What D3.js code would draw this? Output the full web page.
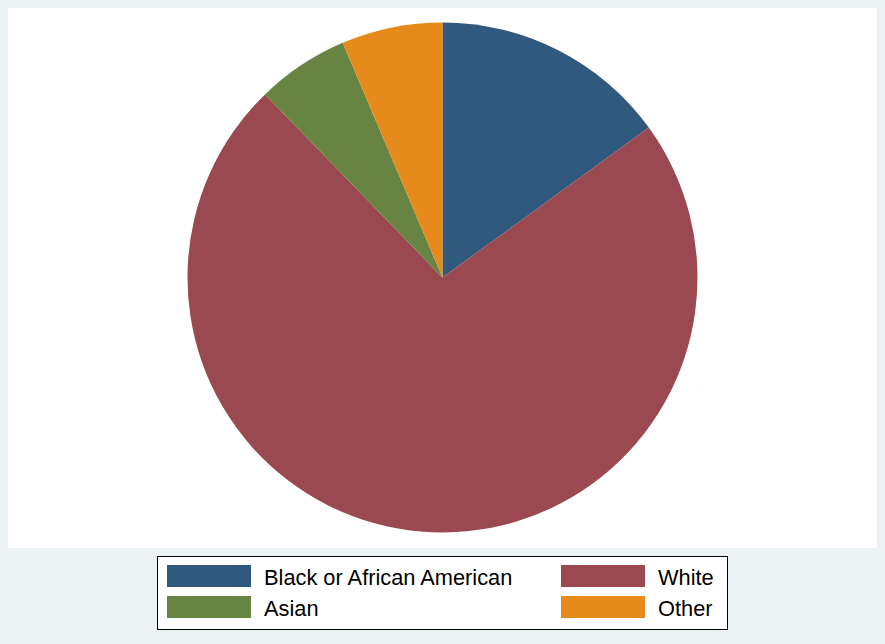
<!DOCTYPE html>
<html><head><meta charset="utf-8">
<script src="https://cdn.jsdelivr.net/npm/d3@7"></script>
<style>body{margin:0;background:#EAF2F3;}svg{display:block;}</style>
</head><body>
<svg id="chart" width="885" height="644"></svg>
<script>
const categories = ["Black or African American", "White", "Asian", "Other"];
const values = [15.0, 72.75, 5.85, 6.4];
const colors = ["#31597D", "#9B4950", "#678443", "#E68B1B"];
const legendOrder = [0, 1, 2, 3];

const svg = d3.select("#chart");
svg.append("rect").attr("x",0).attr("y",0).attr("width",885).attr("height",644).attr("fill","#EAF2F3");
svg.append("rect").attr("x",8).attr("y",8).attr("width",869).attr("height",540).attr("fill","#ffffff");

const cx = 442.5, cy = 277.5, r = 255;
const pie = d3.pie().sort(null).value(d => d.v);
const arcs = pie(categories.map((c,i)=>({c, v: values[i], i})));
const arc = d3.arc().innerRadius(0).outerRadius(r);
svg.append("g").attr("transform",`translate(${cx},${cy})`)
  .selectAll("path").data(arcs).join("path")
  .attr("d", arc).attr("fill", d => colors[d.data.i]);

// legend
const lg = svg.append("g");
lg.append("rect").attr("x",157.5).attr("y",556.5).attr("width",570).attr("height",73)
  .attr("fill","#fff").attr("stroke","#000").attr("stroke-width",1);
const colX = [167, 561], rowY = [565, 596];
legendOrder.forEach((k, j) => {
  const col = j % 2, row = Math.floor(j / 2);
  lg.append("rect").attr("x", colX[col]).attr("y", rowY[row]).attr("width", 84).attr("height", 22)
    .attr("fill", colors[k]);
  lg.append("text").attr("x", colX[col] + 97).attr("y", rowY[row] + 20)
    .attr("font-family", "Liberation Sans, Arial, sans-serif").attr("font-size", 21.8)
    .attr("fill", "#000").text(categories[k]);
});
</script>
</body></html>
